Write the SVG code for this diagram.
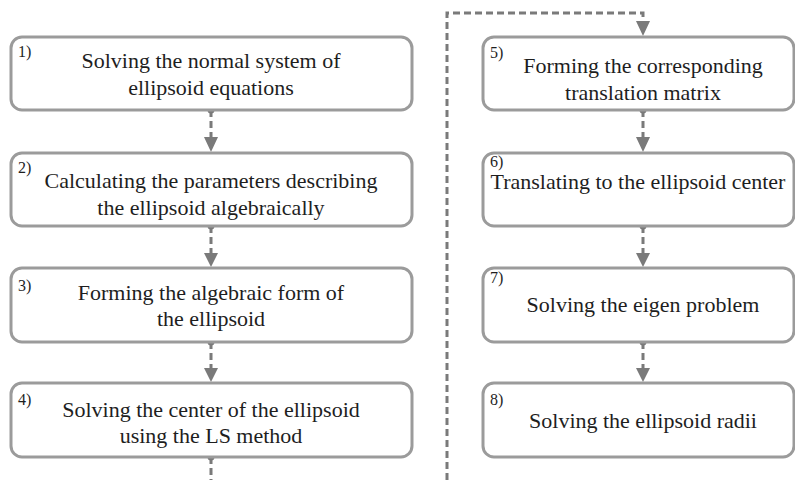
<svg xmlns="http://www.w3.org/2000/svg" width="795" height="480" viewBox="0 0 795 480">
<style>
.box{fill:#fff;stroke:#9b9b9b;stroke-width:3}
.t{font-size:22px;fill:#1e1e1e;text-anchor:middle}
.n{font-size:16px;fill:#1e1e1e}
.c{stroke:#7a7a7a;stroke-width:3;fill:none;stroke-dasharray:7 4}
.dot{fill:#7a7a7a}
.ah{fill:#7a7a7a}
</style>
<rect width="795" height="480" fill="#fff"/>
<g id="connectors">
  <path class="c" d="M447,480 V13 H643 V22"/>
  <polygon class="ah" points="636,21 650,21 643,36"/>
  <g id="c1-2"><circle class="dot" cx="211" cy="110" r="3.5"/><path class="c" d="M211,110 V138" stroke-dasharray="6 4"/><polygon class="ah" points="204,137 218,137 211,152"/></g>
  <g id="c2-3"><circle class="dot" cx="211" cy="226" r="3.5"/><path class="c" d="M211,226 V254" stroke-dasharray="6 4"/><polygon class="ah" points="204,253 218,253 211,267"/></g>
  <g id="c3-4"><circle class="dot" cx="211" cy="342" r="3.5"/><path class="c" d="M211,342 V369" stroke-dasharray="6 4"/><polygon class="ah" points="204,368 218,368 211,382"/></g>
  <g id="c4-out"><circle class="dot" cx="211" cy="457" r="3.5"/><path class="c" d="M211,457 V480" stroke-dasharray="6 4"/></g>
  <g id="c5-6"><circle class="dot" cx="643" cy="110" r="3.5"/><path class="c" d="M643,110 V138" stroke-dasharray="6 4"/><polygon class="ah" points="636,137 650,137 643,152"/></g>
  <g id="c6-7"><circle class="dot" cx="643" cy="226" r="3.5"/><path class="c" d="M643,226 V254" stroke-dasharray="6 4"/><polygon class="ah" points="636,253 650,253 643,267"/></g>
  <g id="c7-8"><circle class="dot" cx="643" cy="342" r="3.5"/><path class="c" d="M643,342 V369" stroke-dasharray="6 4"/><polygon class="ah" points="636,368 650,368 643,382"/></g>
</g>
<g font-family="'Liberation Serif', 'DejaVu Serif', serif">
<g id="node1">
  <rect class="box" x="11" y="37" width="401" height="73" rx="11"/>
  <text class="n" x="18" y="57">1)</text>
  <text class="t" x="211" y="68">Solving the normal system of</text>
  <text class="t" x="211" y="95">ellipsoid equations</text>
</g>
<g id="node2">
  <rect class="box" x="11" y="153" width="401" height="73" rx="11"/>
  <text class="n" x="18" y="173">2)</text>
  <text class="t" x="211" y="188">Calculating the parameters describing</text>
  <text class="t" x="211" y="215">the ellipsoid algebraically</text>
</g>
<g id="node3">
  <rect class="box" x="11" y="268" width="401" height="74" rx="11"/>
  <text class="n" x="18" y="291">3)</text>
  <text class="t" x="211" y="300">Forming the algebraic form of</text>
  <text class="t" x="211" y="326">the ellipsoid</text>
</g>
<g id="node4">
  <rect class="box" x="11" y="383" width="401" height="74" rx="11"/>
  <text class="n" x="18" y="405">4)</text>
  <text class="t" x="211" y="417">Solving the center of the ellipsoid</text>
  <text class="t" x="211" y="443">using the LS method</text>
</g>
<g id="node5">
  <rect class="box" x="483" y="37" width="311" height="73" rx="11"/>
  <text class="n" x="490" y="58">5)</text>
  <text class="t" x="643" y="73">Forming the corresponding</text>
  <text class="t" x="643" y="100">translation matrix</text>
</g>
<g id="node6">
  <rect class="box" x="483" y="153" width="311" height="73" rx="11"/>
  <text class="n" x="490" y="167">6)</text>
  <text class="t" x="638" y="189">Translating to the ellipsoid center</text>
</g>
<g id="node7">
  <rect class="box" x="483" y="268" width="311" height="74" rx="11"/>
  <text class="n" x="490" y="283">7)</text>
  <text class="t" x="643" y="312">Solving the eigen problem</text>
</g>
<g id="node8">
  <rect class="box" x="483" y="383" width="311" height="74" rx="11"/>
  <text class="n" x="490" y="405">8)</text>
  <text class="t" x="643" y="428">Solving the ellipsoid radii</text>
</g>
</g>
</svg>
